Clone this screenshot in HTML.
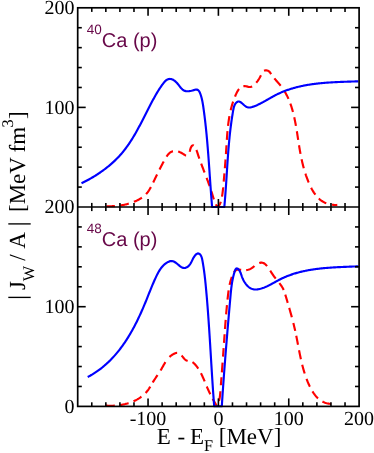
<!DOCTYPE html>
<html><head><meta charset="utf-8"><title>chart</title>
<style>html,body{margin:0;padding:0;background:#fff;overflow:hidden;}svg{display:block;will-change:transform;-webkit-font-smoothing:antialiased;}text{text-rendering:geometricPrecision;}</style>
</head><body>
<svg width="374" height="453" viewBox="0 0 374 453">
<rect width="374" height="453" fill="#fff"/>
<defs><clipPath id="ct"><rect x="77.70" y="7.80" width="281.40" height="200.30"/></clipPath><clipPath id="cb"><rect x="77.70" y="207.00" width="281.40" height="200.50"/></clipPath></defs>
<path d="M106.40 206.20 L107.16 206.22 L107.93 206.24 L108.69 206.25 L109.46 206.25 L110.22 206.25 L110.98 206.24 L111.74 206.22 L112.50 206.19 L113.27 206.16 L114.03 206.12 L114.78 206.08 L114.90 206.07 M120.07 205.53 L120.81 205.42 L121.56 205.30 L122.31 205.17 L123.05 205.03 L123.79 204.89 L124.53 204.73 L125.27 204.57 L126.01 204.40 L126.74 204.21 L127.47 204.02 L128.20 203.82 L128.79 203.65 M133.94 201.85 L134.64 201.56 L135.35 201.25 L136.04 200.94 L136.74 200.61 L137.43 200.27 L138.11 199.92 L138.79 199.56 L139.46 199.19 L140.13 198.80 L140.78 198.40 L141.42 197.98 L141.89 197.66 M146.08 194.11 L146.59 193.55 L147.07 192.97 L147.55 192.38 L148.00 191.77 L148.44 191.15 L148.87 190.52 L149.28 189.88 L149.68 189.22 L150.07 188.56 L150.45 187.89 L150.82 187.22 L150.90 187.08 M153.23 182.41 L153.57 181.72 L153.90 181.04 L154.22 180.35 L154.55 179.68 L154.88 179.00 L155.21 178.32 L155.53 177.65 L155.86 176.98 L156.18 176.30 L156.51 175.63 L156.84 174.96 L157.09 174.45 M159.48 169.61 L159.82 168.94 L160.16 168.27 L160.50 167.60 L160.85 166.92 L161.20 166.25 L161.55 165.57 L161.90 164.89 L162.26 164.21 L162.62 163.53 L162.99 162.84 L163.35 162.15 L163.71 161.50 M166.50 156.65 L166.93 156.01 L167.38 155.39 L167.84 154.79 L168.32 154.22 L168.82 153.69 L169.34 153.19 L169.87 152.74 L170.43 152.33 L171.01 151.97 L171.62 151.66 L172.25 151.41 L172.91 151.21 L172.94 151.21 M178.16 151.57 L178.94 151.82 L179.72 152.12 L180.50 152.45 L181.25 152.81 L181.99 153.20 L182.70 153.61 L183.39 154.05 L184.05 154.47 L184.68 154.86 L185.30 155.17 L185.91 155.36 L186.13 155.37 M189.65 151.81 L189.87 151.00 L190.07 150.18 L190.28 149.35 L190.52 148.53 L190.81 147.73 L191.16 146.98 L191.58 146.31 L192.05 145.78 L192.54 145.44 L193.05 145.34 L193.55 145.50 L193.74 145.65 M196.40 150.02 L196.69 150.75 L196.95 151.47 L197.21 152.20 L197.45 152.93 L197.69 153.65 L197.92 154.37 L198.16 155.10 L198.40 155.82 L198.64 156.54 L198.89 157.26 L199.14 157.98 L199.33 158.53 M201.20 163.70 L201.47 164.41 L201.73 165.12 L202.00 165.83 L202.27 166.54 L202.54 167.25 L202.81 167.96 L203.08 168.67 L203.35 169.37 L203.62 170.08 L203.90 170.79 L204.17 171.50 L204.44 172.21 L204.55 172.50 M206.61 177.88 L206.88 178.59 L207.15 179.30 L207.41 180.01 L207.68 180.72 L207.94 181.43 L208.20 182.14 L208.46 182.86 L208.72 183.57 L208.98 184.29 L209.23 185.00 L209.49 185.72 L209.60 186.05 M211.29 191.10 L211.42 191.48 L211.64 192.21 L211.87 192.94 L212.09 193.67 L212.31 194.40 L212.53 195.12 L212.76 195.85 L212.98 196.58 L213.21 197.31 L213.44 198.03 L213.68 198.75 L213.90 199.40 M215.90 204.33 L215.92 204.39 L216.26 205.07 L216.62 205.74 L217.00 206.40 L217.94 206.08 L218.69 205.63 L219.29 205.07 L219.75 204.43 L220.12 203.72 L220.42 202.97 L220.67 202.19 L220.80 201.76 M222.00 196.58 L222.14 195.76 L222.28 194.93 L222.40 194.11 L222.51 193.28 L222.62 192.44 L222.72 191.61 L222.82 190.77 L222.91 189.94 L222.99 189.10 L223.08 188.26 L223.16 187.42 L223.17 187.27 M223.70 181.56 L223.78 180.73 L223.85 179.90 L223.93 179.06 L224.00 178.23 L224.08 177.40 L224.15 176.56 L224.22 175.73 L224.30 174.90 L224.37 174.07 L224.43 173.30 M224.86 168.25 L224.93 167.42 L224.99 166.59 L225.06 165.76 L225.12 164.93 L225.19 164.10 L225.25 163.27 L225.32 162.44 L225.38 161.61 L225.44 160.78 L225.51 159.95 L225.54 159.46 M225.93 154.09 L225.98 153.30 L226.04 152.47 L226.09 151.64 L226.15 150.80 L226.20 149.97 L226.25 149.13 L226.31 148.30 L226.36 147.46 L226.41 146.63 L226.46 145.79 L226.49 145.29 M226.83 139.91 L226.89 139.10 L226.95 138.26 L227.01 137.42 L227.07 136.59 L227.13 135.75 L227.19 134.92 L227.26 134.08 L227.33 133.25 L227.39 132.41 L227.47 131.58 L227.51 131.12 M228.05 125.76 L228.15 124.94 L228.25 124.11 L228.35 123.28 L228.46 122.46 L228.57 121.64 L228.69 120.82 L228.81 120.00 L228.94 119.18 L229.07 118.36 L229.20 117.54 L229.34 116.73 L229.44 116.15 M230.67 110.23 L230.86 109.42 L231.06 108.62 L231.27 107.81 L231.49 107.00 L231.71 106.20 L231.94 105.39 L232.18 104.59 L232.43 103.78 L232.68 102.98 L232.94 102.18 L233.12 101.66 M235.03 96.56 L235.37 95.75 L235.71 94.95 L236.07 94.15 L236.44 93.35 L236.82 92.57 L237.22 91.81 L237.64 91.07 L238.08 90.36 L238.55 89.68 L239.04 89.05 L239.06 89.03 M243.36 86.24 L244.13 86.14 L244.95 86.13 L245.81 86.22 L246.72 86.41 L247.65 86.65 L248.57 86.86 L249.44 86.97 L250.27 86.97 L251.05 86.85 L251.79 86.61 L252.18 86.43 M256.23 82.77 L256.76 82.10 L257.27 81.44 L257.76 80.77 L258.22 80.10 L258.67 79.42 L259.10 78.73 L259.52 78.02 L259.93 77.29 L260.32 76.54 L260.71 75.77 L260.96 75.23 M264.05 70.85 L264.78 70.55 L265.56 70.39 L266.37 70.37 L267.17 70.48 L267.94 70.73 L268.65 71.10 L269.27 71.60 L269.82 72.20 L270.31 72.87 L270.79 73.58 L271.14 74.11 M274.36 78.37 L274.91 79.02 L275.46 79.66 L276.02 80.30 L276.58 80.94 L277.14 81.58 L277.70 82.21 L278.25 82.84 L278.81 83.48 L279.35 84.12 L279.89 84.76 L280.43 85.41 L280.69 85.74 M284.71 91.53 L285.13 92.24 L285.55 92.96 L285.95 93.68 L286.34 94.41 L286.72 95.15 L287.09 95.89 L287.46 96.63 L287.81 97.39 L288.16 98.14 L288.47 98.86 M290.33 103.55 L290.61 104.33 L290.89 105.12 L291.15 105.92 L291.41 106.71 L291.66 107.51 L291.91 108.31 L292.15 109.12 L292.38 109.92 L292.61 110.73 L292.83 111.54 L292.95 111.99 M294.22 117.25 L294.40 118.07 L294.58 118.89 L294.75 119.71 L294.92 120.53 L295.09 121.35 L295.25 122.17 L295.40 122.99 L295.56 123.81 L295.71 124.63 L295.86 125.46 L295.94 125.90 M296.84 131.22 L296.97 132.04 L297.10 132.87 L297.23 133.69 L297.36 134.51 L297.48 135.34 L297.61 136.16 L297.74 136.99 L297.86 137.81 L297.99 138.64 L298.12 139.46 L298.19 139.92 M299.02 145.23 L299.15 146.05 L299.28 146.88 L299.42 147.70 L299.55 148.52 L299.69 149.35 L299.84 150.17 L299.98 150.99 L300.13 151.81 L300.28 152.63 L300.43 153.46 L300.51 153.91 M301.58 159.19 L301.75 160.00 L301.94 160.82 L302.12 161.63 L302.31 162.45 L302.50 163.26 L302.70 164.07 L302.90 164.88 L303.11 165.69 L303.32 166.50 L303.53 167.31 L303.75 168.11 L303.79 168.25 M305.43 173.71 L305.70 174.51 L305.96 175.30 L306.24 176.09 L306.52 176.88 L306.80 177.67 L307.09 178.45 L307.39 179.24 L307.70 180.02 L308.01 180.80 L308.33 181.57 L308.65 182.35 L308.72 182.50 M311.13 187.71 L311.51 188.46 L311.91 189.20 L312.32 189.94 L312.74 190.67 L313.17 191.39 L313.61 192.10 L314.06 192.80 L314.53 193.48 L315.01 194.16 L315.43 194.73 M318.79 198.48 L319.39 199.03 L320.02 199.56 L320.66 200.07 L321.32 200.56 L322.00 201.03 L322.70 201.47 L323.43 201.89 L324.17 202.29 L324.93 202.66 L325.72 203.00 L326.30 203.23 M331.56 204.65 L332.41 204.78 L333.25 204.87 L334.09 204.94 L334.91 204.98 L335.73 204.98 L336.52 204.96 L337.30 204.90" fill="none" stroke="#ff0000" stroke-width="2.15" stroke-linejoin="round" clip-path="url(#ct)"/>
<path d="M81.50 183.30 L82.48 182.82 L83.47 182.33 L84.45 181.83 L85.43 181.32 L86.41 180.80 L87.38 180.28 L88.36 179.75 L89.33 179.21 L90.29 178.66 L91.26 178.11 L92.22 177.55 L93.18 176.98 L94.13 176.40 L95.08 175.81 L96.03 175.22 L96.97 174.62 L97.91 174.01 L98.84 173.39 L99.77 172.76 L100.69 172.13 L101.60 171.49 L102.52 170.84 L103.42 170.18 L104.32 169.51 L105.21 168.84 L106.10 168.16 L106.98 167.47 L107.85 166.77 L108.72 166.06 L109.58 165.35 L110.43 164.63 L111.28 163.90 L112.11 163.16 L112.94 162.41 L113.76 161.66 L114.57 160.90 L115.37 160.13 L116.17 159.35 L116.95 158.56 L117.73 157.77 L118.49 156.97 L119.25 156.16 L119.99 155.34 L120.73 154.51 L121.45 153.68 L122.17 152.84 L122.88 151.99 L123.57 151.13 L124.26 150.27 L124.93 149.40 L125.60 148.52 L126.26 147.63 L126.91 146.74 L127.55 145.84 L128.19 144.94 L128.82 144.03 L129.43 143.11 L130.05 142.19 L130.65 141.27 L131.25 140.34 L131.84 139.40 L132.43 138.46 L133.00 137.51 L133.58 136.56 L134.15 135.61 L134.71 134.65 L135.26 133.69 L135.82 132.72 L136.36 131.75 L136.91 130.78 L137.45 129.80 L137.98 128.83 L138.51 127.84 L139.04 126.86 L139.57 125.88 L140.09 124.89 L140.61 123.90 L141.12 122.91 L141.64 121.91 L142.15 120.92 L142.66 119.93 L143.17 118.93 L143.68 117.93 L144.18 116.94 L144.69 115.94 L145.20 114.94 L145.70 113.94 L146.21 112.95 L146.71 111.95 L147.22 110.95 L147.72 109.96 L148.23 108.97 L148.74 107.97 L149.25 106.98 L149.76 105.99 L150.27 105.00 L150.79 104.02 L151.31 103.03 L151.83 102.05 L152.35 101.07 L152.88 100.10 L153.41 99.13 L153.94 98.16 L154.47 97.19 L155.02 96.23 L155.56 95.27 L156.11 94.31 L156.67 93.36 L157.23 92.41 L157.80 91.47 L158.38 90.53 L158.97 89.60 L159.57 88.66 L160.19 87.74 L160.82 86.81 L161.46 85.89 L162.12 84.97 L162.80 84.06 L163.49 83.15 L164.21 82.25 L164.96 81.39 L165.76 80.61 L166.61 79.94 L167.53 79.43 L168.52 79.10 L169.53 78.94 L170.55 78.96 L171.55 79.16 L172.54 79.51 L173.50 80.02 L174.43 80.64 L175.33 81.37 L176.20 82.18 L177.03 83.06 L177.82 83.98 L178.58 84.93 L179.31 85.89 L180.04 86.83 L180.76 87.73 L181.51 88.57 L182.28 89.33 L183.10 89.99 L183.98 90.52 L184.92 90.90 L185.93 91.15 L186.98 91.27 L188.08 91.27 L189.21 91.18 L190.35 91.00 L191.51 90.75 L192.66 90.43 L193.79 90.10 L194.88 89.81 L195.90 89.63 L196.84 89.64 L197.67 89.90 L198.39 90.41 L199.02 91.13 L199.56 92.02 L200.03 93.02 L200.45 94.11 L200.82 95.22 L201.17 96.33 L201.48 97.44 L201.76 98.55 L202.02 99.66 L202.26 100.76 L202.47 101.87 L202.68 102.97 L202.86 104.07 L203.04 105.17 L203.21 106.27 L203.37 107.38 L203.52 108.48 L203.68 109.58 L203.83 110.68 L203.98 111.78 L204.12 112.88 L204.27 113.99 L204.41 115.09 L204.55 116.19 L204.69 117.30 L204.82 118.40 L204.96 119.50 L205.09 120.61 L205.21 121.71 L205.34 122.81 L205.47 123.92 L205.59 125.02 L205.71 126.13 L205.83 127.23 L205.94 128.34 L206.06 129.44 L206.17 130.55 L206.28 131.65 L206.39 132.76 L206.50 133.86 L206.61 134.97 L206.71 136.08 L206.81 137.18 L206.92 138.29 L207.02 139.40 L207.12 140.50 L207.21 141.61 L207.31 142.72 L207.40 143.82 L207.50 144.93 L207.59 146.04 L207.68 147.14 L207.77 148.25 L207.86 149.36 L207.95 150.47 L208.04 151.57 L208.12 152.68 L208.21 153.79 L208.29 154.90 L208.38 156.01 L208.46 157.11 L208.54 158.22 L208.62 159.33 L208.70 160.44 L208.79 161.55 L208.87 162.66 L208.94 163.76 L209.02 164.87 L209.10 165.98 L209.18 167.09 L209.26 168.20 L209.34 169.31 L209.41 170.42 L209.49 171.52 L209.57 172.63 L209.64 173.74 L209.72 174.85 L209.80 175.96 L209.87 177.07 L209.95 178.18 L210.03 179.29 L210.10 180.40 L210.18 181.50 L210.26 182.61 L210.34 183.72 L210.41 184.83 L210.49 185.94 L210.57 187.05 L210.65 188.16 L210.73 189.27 L210.81 190.37 L210.89 191.48 L210.97 192.59 L211.05 193.70 L211.13 194.81 L211.22 195.92 L211.30 197.03 L211.39 198.13 L211.47 199.24 L211.56 200.35 L211.65 201.46 L211.74 202.57 L211.82 203.68 L211.92 204.78 L212.01 205.89 L212.10 207.00 L224.30 207.00 L224.36 206.32 L224.43 205.65 L224.49 204.97 L224.55 204.29 L224.61 203.61 L224.67 202.93 L224.73 202.25 L224.79 201.57 L224.85 200.89 L224.90 200.21 L224.96 199.53 L225.02 198.85 L225.07 198.16 L225.13 197.48 L225.18 196.80 L225.23 196.12 L225.29 195.43 L225.34 194.75 L225.39 194.06 L225.44 193.38 L225.49 192.70 L225.54 192.01 L225.59 191.32 L225.64 190.64 L225.69 189.95 L225.74 189.27 L225.79 188.58 L225.84 187.89 L225.88 187.21 L225.93 186.52 L225.98 185.83 L226.02 185.14 L226.07 184.46 L226.12 183.77 L226.16 183.08 L226.21 182.39 L226.25 181.70 L226.30 181.02 L226.34 180.33 L226.39 179.64 L226.43 178.95 L226.48 178.26 L226.52 177.57 L226.57 176.88 L226.61 176.19 L226.65 175.51 L226.70 174.82 L226.74 174.13 L226.79 173.44 L226.83 172.75 L226.87 172.06 L226.92 171.37 L226.96 170.68 L227.01 169.99 L227.05 169.30 L227.10 168.61 L227.14 167.93 L227.19 167.24 L227.23 166.55 L227.28 165.86 L227.32 165.17 L227.37 164.48 L227.41 163.79 L227.46 163.11 L227.50 162.42 L227.55 161.73 L227.60 161.04 L227.64 160.36 L227.69 159.67 L227.74 158.98 L227.79 158.30 L227.84 157.61 L227.89 156.92 L227.93 156.24 L227.98 155.55 L228.03 154.87 L228.09 154.18 L228.14 153.49 L228.19 152.81 L228.24 152.13 L228.29 151.44 L228.35 150.76 L228.40 150.07 L228.45 149.39 L228.51 148.71 L228.57 148.03 L228.62 147.34 L228.68 146.66 L228.74 145.98 L228.79 145.30 L228.85 144.62 L228.91 143.94 L228.97 143.26 L229.03 142.58 L229.10 141.90 L229.16 141.23 L229.22 140.55 L229.29 139.87 L229.35 139.20 L229.42 138.52 L229.49 137.84 L229.55 137.17 L229.62 136.49 L229.69 135.82 L229.76 135.15 L229.83 134.48 L229.91 133.80 L229.98 133.13 L230.05 132.46 L230.13 131.79 L230.21 131.12 L230.28 130.45 L230.36 129.78 L230.44 129.11 L230.52 128.44 L230.61 127.77 L230.69 127.10 L230.78 126.43 L230.86 125.76 L230.95 125.09 L231.04 124.42 L231.13 123.74 L231.22 123.06 L231.32 122.38 L231.41 121.70 L231.51 121.02 L231.61 120.34 L231.71 119.65 L231.81 118.96 L231.91 118.27 L232.02 117.57 L232.13 116.87 L232.23 116.17 L232.35 115.47 L232.46 114.76 L232.57 114.05 L232.69 113.33 L232.81 112.61 L232.93 111.88 L233.05 111.15 L233.18 110.42 L233.32 109.69 L233.46 108.96 L233.62 108.23 L233.79 107.52 L233.99 106.82 L234.22 106.14 L234.47 105.48 L234.76 104.85 L235.08 104.24 L235.44 103.68 L235.83 103.15 L236.24 102.69 L236.68 102.28 L237.14 101.95 L237.62 101.70 L238.11 101.54 L238.61 101.48 L239.12 101.53 L239.63 101.68 L240.15 101.92 L240.68 102.24 L241.21 102.61 L241.75 103.04 L242.29 103.51 L242.85 104.00 L243.41 104.51 L243.97 105.01 L244.55 105.50 L245.13 105.96 L245.71 106.38 L246.31 106.75 L246.91 107.06 L247.52 107.28 L248.14 107.43 L248.77 107.50 L249.40 107.51 L250.03 107.46 L250.67 107.36 L251.31 107.22 L251.94 107.05 L252.58 106.85 L253.22 106.63 L253.85 106.41 L254.48 106.17 L255.11 105.93 L255.74 105.68 L256.36 105.41 L256.99 105.14 L257.61 104.87 L258.22 104.58 L258.84 104.29 L259.45 103.99 L260.07 103.68 L260.68 103.37 L261.29 103.06 L261.90 102.74 L262.51 102.41 L263.12 102.08 L263.72 101.75 L264.33 101.41 L264.93 101.07 L265.54 100.73 L266.14 100.39 L266.75 100.04 L267.35 99.70 L267.96 99.35 L268.56 99.01 L269.16 98.66 L269.77 98.31 L270.38 97.97 L270.98 97.62 L271.59 97.28 L272.20 96.94 L272.80 96.61 L273.41 96.27 L274.02 95.94 L274.64 95.61 L275.25 95.29 L275.87 94.97 L276.48 94.66 L277.10 94.35 L277.72 94.05 L278.34 93.76 L278.97 93.46 L279.59 93.18 L280.22 92.89 L280.85 92.62 L281.48 92.34 L282.11 92.08 L282.74 91.82 L283.37 91.56 L284.01 91.30 L284.65 91.06 L285.28 90.81 L285.92 90.57 L286.57 90.34 L287.21 90.11 L287.85 89.88 L288.50 89.66 L289.14 89.44 L289.79 89.23 L290.44 89.02 L291.09 88.82 L291.74 88.61 L292.40 88.42 L293.05 88.23 L293.70 88.04 L294.36 87.85 L295.02 87.67 L295.68 87.50 L296.34 87.32 L297.00 87.15 L297.66 86.99 L298.32 86.83 L298.98 86.67 L299.65 86.51 L300.32 86.36 L300.98 86.21 L301.65 86.07 L302.32 85.93 L302.99 85.79 L303.66 85.65 L304.33 85.52 L305.00 85.40 L305.67 85.27 L306.35 85.15 L307.02 85.03 L307.70 84.91 L308.37 84.80 L309.05 84.69 L309.73 84.58 L310.40 84.48 L311.08 84.38 L311.76 84.28 L312.44 84.18 L313.12 84.09 L313.80 84.00 L314.49 83.91 L315.17 83.82 L315.85 83.74 L316.53 83.66 L317.22 83.58 L317.90 83.50 L318.59 83.43 L319.27 83.35 L319.96 83.28 L320.64 83.22 L321.33 83.15 L322.02 83.09 L322.70 83.02 L323.39 82.96 L324.08 82.90 L324.77 82.85 L325.45 82.79 L326.14 82.74 L326.83 82.69 L327.52 82.64 L328.21 82.59 L328.90 82.54 L329.59 82.50 L330.28 82.45 L330.97 82.41 L331.65 82.37 L332.34 82.33 L333.03 82.29 L333.72 82.25 L334.41 82.22 L335.10 82.18 L335.79 82.15 L336.48 82.12 L337.17 82.08 L337.86 82.05 L338.55 82.02 L339.24 81.99 L339.93 81.96 L340.62 81.93 L341.31 81.91 L341.99 81.88 L342.68 81.85 L343.37 81.83 L344.06 81.80 L344.74 81.78 L345.43 81.75 L346.12 81.73 L346.80 81.71 L347.49 81.68 L348.18 81.66 L348.86 81.64 L349.55 81.61 L350.23 81.59 L350.91 81.57 L351.60 81.54 L352.28 81.52 L352.96 81.50 L353.64 81.47 L354.33 81.45 L355.01 81.43 L355.69 81.40 L356.37 81.38 L357.04 81.35 L357.72 81.33 L358.40 81.30" fill="none" stroke="#0000ff" stroke-width="2.15" stroke-linejoin="round" clip-path="url(#ct)"/>
<path d="M105.90 405.60 L106.51 405.64 L107.11 405.67 L107.72 405.70 L108.34 405.72 L108.95 405.74 L109.57 405.75 L110.19 405.75 L110.81 405.75 L111.43 405.75 L112.05 405.74 L112.68 405.72 L113.30 405.70 L113.93 405.67 L114.55 405.63 L114.80 405.62 M120.21 405.04 L120.83 404.94 L121.46 404.83 L122.08 404.72 L122.70 404.60 L123.32 404.48 L123.94 404.35 L124.56 404.21 L125.18 404.07 L125.79 403.91 L126.40 403.75 L127.01 403.59 L127.62 403.41 L128.22 403.23 L128.59 403.12 M133.51 401.28 L134.08 401.02 L134.65 400.76 L135.21 400.49 L135.76 400.21 L136.31 399.93 L136.86 399.63 L137.40 399.33 L137.93 399.02 L138.46 398.70 L138.98 398.37 L139.50 398.04 L140.01 397.69 L140.52 397.34 L141.02 396.98 L141.45 396.66 M145.63 392.91 L146.05 392.45 L146.46 391.99 L146.87 391.51 L147.26 391.03 L147.65 390.54 L148.03 390.04 L148.40 389.52 L148.76 389.00 L149.11 388.48 L149.45 387.94 L149.79 387.40 L150.13 386.85 L150.28 386.59 M152.72 382.45 L153.05 381.91 L153.38 381.37 L153.71 380.84 L154.05 380.32 L154.39 379.79 L154.73 379.28 L155.08 378.76 L155.42 378.25 L155.77 377.74 L156.12 377.23 L156.46 376.72 L156.81 376.22 L157.16 375.71 L157.51 375.20 L157.59 375.08 M160.53 370.55 L160.85 370.02 L161.16 369.48 L161.48 368.93 L161.79 368.39 L162.10 367.84 L162.41 367.29 L162.72 366.74 L163.03 366.19 L163.34 365.64 L163.65 365.09 L163.97 364.55 L164.29 364.00 L164.61 363.46 L164.94 362.92 L165.27 362.39 L165.43 362.16 M169.50 357.02 L169.95 356.59 L170.42 356.18 L170.90 355.78 L171.39 355.39 L171.91 355.02 L172.44 354.67 L172.98 354.33 L173.55 354.01 L174.13 353.71 L174.72 353.45 L175.31 353.22 L175.91 353.05 L176.50 352.93 L177.08 352.88 L177.14 352.88 M181.63 355.56 L182.08 356.08 L182.53 356.62 L182.97 357.16 L183.41 357.70 L183.86 358.22 L184.31 358.72 L184.76 359.18 L185.22 359.61 L185.69 359.99 L186.17 360.32 L186.67 360.61 L187.20 360.84 L187.63 360.99 M192.47 362.14 L192.96 362.47 L193.43 362.84 L193.88 363.23 L194.31 363.65 L194.73 364.09 L195.15 364.54 L195.55 364.99 L195.94 365.45 L196.33 365.92 L196.70 366.40 L197.07 366.89 L197.43 367.38 L197.78 367.88 L198.12 368.39 L198.26 368.59 M200.93 373.20 L201.22 373.76 L201.50 374.33 L201.78 374.89 L202.05 375.46 L202.31 376.03 L202.58 376.61 L202.84 377.18 L203.10 377.76 L203.36 378.35 L203.61 378.93 L203.86 379.51 L204.11 380.10 L204.36 380.68 L204.60 381.27 L204.67 381.44 M206.80 386.54 L207.05 387.12 L207.30 387.70 L207.54 388.27 L207.80 388.84 L208.05 389.41 L208.30 389.98 L208.56 390.55 L208.82 391.12 L209.08 391.68 L209.34 392.24 L209.61 392.80 L209.87 393.36 L210.14 393.91 L210.31 394.25 M212.68 398.85 L212.98 399.39 L213.28 399.93 L213.58 400.47 L213.88 401.01 L214.19 401.55 L214.51 402.08 L214.82 402.62 L215.14 403.15 L215.47 403.68 L215.79 404.21 L216.12 404.74 L216.46 405.27 L216.80 405.80 L216.95 405.56 M219.00 400.90 L219.23 400.02 L219.44 399.14 L219.61 398.25 L219.77 397.34 L219.90 396.43 L220.01 395.51 L220.11 394.59 L220.20 393.66 L220.28 392.73 L220.36 391.80 L220.40 391.29 M220.86 385.28 L220.93 384.35 L221.01 383.43 L221.08 382.50 L221.15 381.57 L221.22 380.64 L221.29 379.72 L221.36 378.79 L221.43 377.87 L221.48 377.24 M221.85 372.32 L221.92 371.40 L221.99 370.47 L222.06 369.55 L222.13 368.63 L222.20 367.71 L222.27 366.78 L222.34 365.86 L222.40 364.94 L222.47 364.02 L222.54 363.10 L222.58 362.63 M223.01 356.65 L223.08 355.73 L223.15 354.81 L223.21 353.89 L223.28 352.97 L223.35 352.05 L223.41 351.13 L223.48 350.21 L223.54 349.29 L223.61 348.37 L223.63 348.09 M224.00 342.85 L224.06 341.93 L224.13 341.01 L224.19 340.09 L224.25 339.17 L224.32 338.25 L224.38 337.33 L224.45 336.41 L224.51 335.49 L224.58 334.56 L224.60 334.28 M224.98 329.04 L225.05 328.12 L225.11 327.20 L225.18 326.27 L225.25 325.35 L225.32 324.43 L225.39 323.51 L225.46 322.59 L225.54 321.67 L225.61 320.74 L225.68 319.88 M226.14 314.29 L226.22 313.37 L226.29 312.45 L226.38 311.53 L226.46 310.60 L226.54 309.68 L226.63 308.76 L226.71 307.84 L226.80 306.92 L226.88 305.99 L226.97 305.13 M227.53 299.54 L227.63 298.62 L227.73 297.70 L227.83 296.77 L227.93 295.85 L228.04 294.93 L228.15 294.01 L228.26 293.09 L228.38 292.17 L228.51 291.25 L228.63 290.40 M229.60 284.86 L229.80 283.96 L230.01 283.05 L230.23 282.15 L230.47 281.26 L230.73 280.36 L230.99 279.47 L231.28 278.59 L231.58 277.71 L231.86 276.92 M233.98 272.35 L234.31 271.85 L234.85 271.19 L235.44 270.62 L236.09 270.16 L236.82 269.82 L237.62 269.62 L238.50 269.57 L239.43 269.62 L240.41 269.73 L241.17 269.83 M246.20 270.06 L247.11 269.96 L248.00 269.79 L248.86 269.56 L249.71 269.26 L250.52 268.89 L251.31 268.43 L252.08 267.91 L252.83 267.34 L253.59 266.74 L254.36 266.13 L254.41 266.08 M259.24 263.09 L260.06 262.83 L260.87 262.66 L261.66 262.61 L262.44 262.70 L263.19 262.92 L263.93 263.27 L264.64 263.73 L265.33 264.29 L266.01 264.93 L266.66 265.65 L267.04 266.12 M270.22 270.69 L270.75 271.53 L271.28 272.34 L271.79 273.12 L272.30 273.88 L272.80 274.63 L273.31 275.36 L273.81 276.07 L274.32 276.78 L274.83 277.48 L275.36 278.18 L275.68 278.59 M279.36 283.17 L279.94 283.92 L280.50 284.67 L281.05 285.43 L281.58 286.20 L282.09 286.99 L282.57 287.78 L283.02 288.59 L283.43 289.42 L283.67 289.97 M285.28 294.62 L285.55 295.50 L285.81 296.39 L286.08 297.27 L286.34 298.16 L286.60 299.04 L286.87 299.93 L287.13 300.81 L287.40 301.70 L287.66 302.58 L287.74 302.86 M289.22 307.90 L289.47 308.79 L289.73 309.68 L289.98 310.56 L290.23 311.45 L290.48 312.34 L290.73 313.23 L290.98 314.12 L291.23 315.01 L291.47 315.90 L291.71 316.80 L291.84 317.26 M293.35 323.06 L293.57 323.95 L293.80 324.85 L294.01 325.75 L294.23 326.65 L294.44 327.55 L294.65 328.45 L294.86 329.35 L295.06 330.25 L295.20 330.87 M296.22 335.68 L296.41 336.58 L296.59 337.49 L296.77 338.40 L296.95 339.31 L297.12 340.22 L297.30 341.12 L297.48 342.03 L297.65 342.94 L297.83 343.85 L297.99 344.70 M299.05 350.21 L299.23 351.12 L299.41 352.03 L299.59 352.94 L299.77 353.84 L299.95 354.75 L300.14 355.65 L300.33 356.56 L300.52 357.46 L300.72 358.37 L300.90 359.20 M302.19 364.66 L302.41 365.56 L302.64 366.45 L302.88 367.34 L303.12 368.23 L303.37 369.12 L303.62 370.01 L303.88 370.90 L304.14 371.78 L304.42 372.66 L304.68 373.49 M306.51 378.79 L306.84 379.66 L307.18 380.52 L307.52 381.39 L307.88 382.25 L308.24 383.10 L308.62 383.96 L309.00 384.81 L309.39 385.66 L309.79 386.51 L309.92 386.77 M312.46 391.43 L312.95 392.21 L313.46 392.98 L313.98 393.73 L314.52 394.47 L315.07 395.19 L315.64 395.89 L316.23 396.57 L316.84 397.22 L317.47 397.86 L318.03 398.38 M322.47 401.54 L323.27 401.95 L324.10 402.32 L324.96 402.65 L325.84 402.95 L326.74 403.21 L327.68 403.43 L328.64 403.61 L329.63 403.75 L330.65 403.85 L331.08 403.87" fill="none" stroke="#ff0000" stroke-width="2.15" stroke-linejoin="round" clip-path="url(#cb)"/>
<path d="M87.70 377.00 L88.90 376.36 L90.09 375.71 L91.27 375.03 L92.43 374.35 L93.57 373.64 L94.70 372.92 L95.82 372.19 L96.92 371.44 L98.02 370.67 L99.09 369.89 L100.16 369.10 L101.21 368.29 L102.24 367.47 L103.27 366.64 L104.28 365.79 L105.28 364.93 L106.26 364.05 L107.24 363.17 L108.20 362.27 L109.15 361.36 L110.09 360.43 L111.01 359.50 L111.93 358.55 L112.83 357.59 L113.72 356.62 L114.60 355.64 L115.47 354.65 L116.32 353.65 L117.17 352.64 L118.00 351.62 L118.83 350.59 L119.64 349.55 L120.45 348.50 L121.24 347.44 L122.03 346.38 L122.80 345.30 L123.56 344.22 L124.32 343.13 L125.06 342.03 L125.80 340.92 L126.52 339.81 L127.24 338.69 L127.95 337.56 L128.65 336.43 L129.34 335.29 L130.02 334.14 L130.69 332.99 L131.36 331.83 L132.01 330.67 L132.66 329.50 L133.30 328.33 L133.94 327.15 L134.56 325.97 L135.18 324.78 L135.79 323.59 L136.39 322.40 L136.99 321.20 L137.58 320.00 L138.16 318.79 L138.74 317.59 L139.31 316.38 L139.87 315.17 L140.43 313.95 L140.98 312.74 L141.52 311.52 L142.06 310.30 L142.59 309.08 L143.12 307.86 L143.64 306.64 L144.16 305.42 L144.67 304.20 L145.18 302.98 L145.68 301.76 L146.17 300.54 L146.67 299.32 L147.16 298.10 L147.64 296.88 L148.13 295.66 L148.62 294.44 L149.10 293.22 L149.59 292.00 L150.08 290.78 L150.57 289.56 L151.07 288.34 L151.57 287.12 L152.08 285.90 L152.59 284.68 L153.11 283.46 L153.64 282.24 L154.17 281.02 L154.72 279.79 L155.27 278.57 L155.84 277.34 L156.42 276.12 L157.02 274.90 L157.63 273.69 L158.27 272.49 L158.94 271.32 L159.65 270.17 L160.38 269.05 L161.17 267.97 L161.99 266.93 L162.87 265.94 L163.80 265.01 L164.79 264.13 L165.83 263.31 L166.95 262.57 L168.13 261.91 L169.35 261.39 L170.60 261.08 L171.83 261.02 L173.05 261.27 L174.24 261.77 L175.40 262.46 L176.54 263.29 L177.66 264.21 L178.77 265.15 L179.88 266.05 L180.98 266.85 L182.10 267.49 L183.23 267.91 L184.39 268.05 L185.58 267.86 L186.77 267.35 L187.91 266.60 L188.95 265.67 L189.83 264.63 L190.58 263.52 L191.24 262.34 L191.84 261.12 L192.43 259.86 L193.07 258.58 L193.77 257.30 L194.57 256.07 L195.44 254.98 L196.35 254.12 L197.30 253.57 L198.26 253.42 L199.21 253.74 L200.07 254.43 L200.79 255.38 L201.35 256.50 L201.79 257.76 L202.13 259.11 L202.41 260.51 L202.66 261.91 L202.90 263.30 L203.13 264.69 L203.36 266.06 L203.57 267.43 L203.77 268.79 L203.96 270.14 L204.15 271.48 L204.32 272.82 L204.49 274.15 L204.65 275.48 L204.81 276.80 L204.96 278.12 L205.11 279.43 L205.25 280.75 L205.38 282.06 L205.52 283.37 L205.65 284.67 L205.77 285.98 L205.90 287.29 L206.02 288.60 L206.14 289.90 L206.26 291.21 L206.38 292.53 L206.50 293.84 L206.61 295.15 L206.73 296.46 L206.84 297.78 L206.95 299.09 L207.06 300.41 L207.17 301.72 L207.27 303.04 L207.38 304.36 L207.48 305.67 L207.59 306.99 L207.69 308.31 L207.79 309.63 L207.89 310.95 L207.99 312.27 L208.09 313.59 L208.18 314.91 L208.28 316.24 L208.37 317.56 L208.47 318.88 L208.56 320.21 L208.65 321.53 L208.74 322.85 L208.83 324.18 L208.92 325.50 L209.01 326.83 L209.10 328.16 L209.19 329.48 L209.28 330.81 L209.36 332.14 L209.45 333.46 L209.53 334.79 L209.62 336.12 L209.70 337.45 L209.79 338.77 L209.87 340.10 L209.95 341.43 L210.04 342.76 L210.12 344.09 L210.20 345.42 L210.28 346.75 L210.36 348.08 L210.44 349.40 L210.53 350.73 L210.61 352.06 L210.69 353.39 L210.77 354.72 L210.85 356.05 L210.93 357.38 L211.01 358.71 L211.09 360.04 L211.17 361.37 L211.25 362.70 L211.33 364.03 L211.42 365.36 L211.50 366.68 L211.58 368.01 L211.66 369.34 L211.74 370.67 L211.83 372.00 L211.91 373.33 L211.99 374.65 L212.08 375.98 L212.16 377.31 L212.25 378.63 L212.33 379.96 L212.42 381.29 L212.50 382.61 L212.59 383.94 L212.68 385.26 L212.77 386.59 L212.86 387.91 L212.95 389.24 L213.04 390.56 L213.13 391.88 L213.22 393.20 L213.32 394.53 L213.41 395.85 L213.51 397.17 L213.60 398.49 L213.70 399.81 L213.80 401.13 L213.90 402.45 L214.00 403.77 L214.10 405.08 L214.20 406.40 L221.80 406.40 L221.85 405.58 L221.90 404.75 L221.96 403.93 L222.01 403.10 L222.06 402.28 L222.12 401.45 L222.17 400.63 L222.22 399.80 L222.28 398.98 L222.33 398.15 L222.39 397.33 L222.44 396.50 L222.50 395.68 L222.55 394.85 L222.61 394.03 L222.67 393.20 L222.72 392.37 L222.78 391.55 L222.84 390.72 L222.89 389.90 L222.95 389.07 L223.01 388.25 L223.07 387.42 L223.12 386.59 L223.18 385.77 L223.24 384.94 L223.30 384.12 L223.36 383.29 L223.42 382.46 L223.48 381.64 L223.54 380.81 L223.60 379.99 L223.66 379.16 L223.72 378.33 L223.78 377.51 L223.84 376.68 L223.90 375.85 L223.96 375.03 L224.02 374.20 L224.08 373.38 L224.14 372.55 L224.20 371.72 L224.27 370.90 L224.33 370.07 L224.39 369.24 L224.45 368.42 L224.52 367.59 L224.58 366.76 L224.64 365.94 L224.71 365.11 L224.77 364.28 L224.83 363.46 L224.90 362.63 L224.96 361.80 L225.03 360.98 L225.09 360.15 L225.15 359.33 L225.22 358.50 L225.28 357.67 L225.35 356.85 L225.41 356.02 L225.48 355.19 L225.55 354.37 L225.61 353.54 L225.68 352.71 L225.74 351.89 L225.81 351.06 L225.88 350.24 L225.94 349.41 L226.01 348.58 L226.08 347.76 L226.14 346.93 L226.21 346.11 L226.28 345.28 L226.35 344.45 L226.41 343.63 L226.48 342.80 L226.55 341.98 L226.62 341.15 L226.68 340.33 L226.75 339.50 L226.82 338.67 L226.89 337.85 L226.96 337.02 L227.03 336.20 L227.10 335.37 L227.17 334.55 L227.23 333.72 L227.30 332.90 L227.37 332.07 L227.44 331.25 L227.51 330.42 L227.58 329.60 L227.65 328.77 L227.72 327.95 L227.79 327.13 L227.86 326.30 L227.93 325.48 L228.00 324.65 L228.07 323.83 L228.14 323.00 L228.21 322.18 L228.28 321.36 L228.35 320.53 L228.43 319.71 L228.50 318.89 L228.57 318.06 L228.64 317.24 L228.71 316.42 L228.78 315.59 L228.85 314.77 L228.92 313.95 L229.00 313.13 L229.07 312.30 L229.14 311.48 L229.21 310.66 L229.28 309.84 L229.35 309.01 L229.43 308.19 L229.50 307.37 L229.57 306.55 L229.64 305.73 L229.71 304.90 L229.79 304.08 L229.86 303.26 L229.93 302.44 L230.00 301.62 L230.08 300.80 L230.15 299.98 L230.22 299.16 L230.29 298.34 L230.37 297.52 L230.44 296.70 L230.51 295.88 L230.58 295.06 L230.66 294.24 L230.74 293.42 L230.81 292.60 L230.90 291.78 L230.98 290.96 L231.07 290.13 L231.16 289.31 L231.25 288.49 L231.35 287.66 L231.45 286.84 L231.56 286.01 L231.68 285.19 L231.80 284.36 L231.92 283.53 L232.05 282.70 L232.19 281.87 L232.34 281.03 L232.50 280.20 L232.66 279.36 L232.83 278.53 L233.02 277.69 L233.21 276.84 L233.41 276.00 L233.62 275.15 L233.84 274.31 L234.07 273.45 L234.32 272.60 L234.57 271.75 L234.85 270.92 L235.14 270.15 L235.47 269.48 L235.83 268.94 L236.23 268.56 L236.68 268.39 L237.19 268.45 L237.72 268.71 L238.26 269.13 L238.79 269.68 L239.28 270.31 L239.71 270.99 L240.09 271.72 L240.43 272.47 L240.74 273.26 L241.04 274.07 L241.32 274.90 L241.61 275.73 L241.90 276.57 L242.22 277.41 L242.56 278.24 L242.93 279.06 L243.31 279.88 L243.72 280.67 L244.16 281.45 L244.61 282.21 L245.09 282.95 L245.59 283.66 L246.12 284.35 L246.66 285.00 L247.22 285.62 L247.81 286.21 L248.41 286.75 L249.04 287.26 L249.69 287.72 L250.35 288.13 L251.04 288.50 L251.74 288.81 L252.47 289.06 L253.21 289.26 L253.97 289.40 L254.74 289.48 L255.53 289.51 L256.34 289.49 L257.15 289.42 L257.96 289.31 L258.78 289.16 L259.60 288.98 L260.42 288.77 L261.23 288.54 L262.03 288.29 L262.83 288.02 L263.62 287.74 L264.40 287.44 L265.17 287.12 L265.94 286.80 L266.70 286.46 L267.46 286.11 L268.21 285.74 L268.96 285.37 L269.70 285.00 L270.44 284.61 L271.18 284.22 L271.92 283.82 L272.65 283.42 L273.38 283.02 L274.11 282.61 L274.84 282.21 L275.57 281.80 L276.30 281.40 L277.03 281.00 L277.75 280.60 L278.49 280.21 L279.22 279.82 L279.96 279.44 L280.69 279.07 L281.43 278.70 L282.18 278.34 L282.93 277.99 L283.67 277.65 L284.43 277.32 L285.18 276.99 L285.94 276.67 L286.70 276.36 L287.46 276.05 L288.23 275.75 L288.99 275.46 L289.76 275.17 L290.53 274.90 L291.31 274.63 L292.09 274.36 L292.86 274.10 L293.64 273.85 L294.43 273.60 L295.21 273.36 L296.00 273.13 L296.79 272.90 L297.58 272.68 L298.37 272.47 L299.17 272.26 L299.96 272.05 L300.76 271.85 L301.56 271.66 L302.36 271.47 L303.17 271.29 L303.97 271.11 L304.78 270.94 L305.58 270.77 L306.39 270.61 L307.20 270.46 L308.02 270.30 L308.83 270.15 L309.64 270.01 L310.46 269.87 L311.28 269.74 L312.10 269.61 L312.91 269.48 L313.73 269.36 L314.56 269.24 L315.38 269.13 L316.20 269.02 L317.03 268.91 L317.85 268.81 L318.68 268.71 L319.50 268.61 L320.33 268.52 L321.16 268.43 L321.99 268.34 L322.82 268.26 L323.65 268.18 L324.48 268.10 L325.31 268.03 L326.14 267.96 L326.97 267.89 L327.80 267.82 L328.63 267.76 L329.46 267.70 L330.30 267.64 L331.13 267.58 L331.96 267.53 L332.79 267.47 L333.63 267.42 L334.46 267.37 L335.29 267.32 L336.12 267.28 L336.96 267.23 L337.79 267.19 L338.62 267.15 L339.45 267.11 L340.28 267.07 L341.12 267.03 L341.95 266.99 L342.78 266.96 L343.60 266.92 L344.43 266.89 L345.26 266.85 L346.09 266.82 L346.92 266.78 L347.74 266.75 L348.57 266.72 L349.39 266.69 L350.22 266.65 L351.04 266.62 L351.86 266.59 L352.68 266.55 L353.50 266.52 L354.32 266.49 L355.14 266.45 L355.96 266.42 L356.77 266.38 L357.59 266.35 L358.40 266.31" fill="none" stroke="#0000ff" stroke-width="2.15" stroke-linejoin="round" clip-path="url(#cb)"/>
<g stroke="#000" stroke-width="1.70" fill="none">
<rect x="77.70" y="7.80" width="281.40" height="398.60"/>
<line x1="77.70" y1="207.00" x2="359.10" y2="207.00"/>
</g>
<g stroke="#000" stroke-width="1.60" fill="none">
<line x1="91.77" y1="7.80" x2="91.77" y2="11.90"/>
<line x1="91.77" y1="202.90" x2="91.77" y2="211.10"/>
<line x1="91.77" y1="402.30" x2="91.77" y2="406.40"/>
<line x1="105.84" y1="7.80" x2="105.84" y2="11.90"/>
<line x1="105.84" y1="202.90" x2="105.84" y2="211.10"/>
<line x1="105.84" y1="402.30" x2="105.84" y2="406.40"/>
<line x1="119.91" y1="7.80" x2="119.91" y2="11.90"/>
<line x1="119.91" y1="202.90" x2="119.91" y2="211.10"/>
<line x1="119.91" y1="402.30" x2="119.91" y2="406.40"/>
<line x1="133.98" y1="7.80" x2="133.98" y2="11.90"/>
<line x1="133.98" y1="202.90" x2="133.98" y2="211.10"/>
<line x1="133.98" y1="402.30" x2="133.98" y2="406.40"/>
<line x1="148.05" y1="7.80" x2="148.05" y2="15.80"/>
<line x1="148.05" y1="199.00" x2="148.05" y2="215.00"/>
<line x1="148.05" y1="398.40" x2="148.05" y2="406.40"/>
<line x1="162.12" y1="7.80" x2="162.12" y2="11.90"/>
<line x1="162.12" y1="202.90" x2="162.12" y2="211.10"/>
<line x1="162.12" y1="402.30" x2="162.12" y2="406.40"/>
<line x1="176.19" y1="7.80" x2="176.19" y2="11.90"/>
<line x1="176.19" y1="202.90" x2="176.19" y2="211.10"/>
<line x1="176.19" y1="402.30" x2="176.19" y2="406.40"/>
<line x1="190.26" y1="7.80" x2="190.26" y2="11.90"/>
<line x1="190.26" y1="202.90" x2="190.26" y2="211.10"/>
<line x1="190.26" y1="402.30" x2="190.26" y2="406.40"/>
<line x1="204.33" y1="7.80" x2="204.33" y2="11.90"/>
<line x1="204.33" y1="202.90" x2="204.33" y2="211.10"/>
<line x1="204.33" y1="402.30" x2="204.33" y2="406.40"/>
<line x1="218.40" y1="7.80" x2="218.40" y2="15.80"/>
<line x1="218.40" y1="199.00" x2="218.40" y2="215.00"/>
<line x1="218.40" y1="398.40" x2="218.40" y2="406.40"/>
<line x1="232.47" y1="7.80" x2="232.47" y2="11.90"/>
<line x1="232.47" y1="202.90" x2="232.47" y2="211.10"/>
<line x1="232.47" y1="402.30" x2="232.47" y2="406.40"/>
<line x1="246.54" y1="7.80" x2="246.54" y2="11.90"/>
<line x1="246.54" y1="202.90" x2="246.54" y2="211.10"/>
<line x1="246.54" y1="402.30" x2="246.54" y2="406.40"/>
<line x1="260.61" y1="7.80" x2="260.61" y2="11.90"/>
<line x1="260.61" y1="202.90" x2="260.61" y2="211.10"/>
<line x1="260.61" y1="402.30" x2="260.61" y2="406.40"/>
<line x1="274.68" y1="7.80" x2="274.68" y2="11.90"/>
<line x1="274.68" y1="202.90" x2="274.68" y2="211.10"/>
<line x1="274.68" y1="402.30" x2="274.68" y2="406.40"/>
<line x1="288.75" y1="7.80" x2="288.75" y2="15.80"/>
<line x1="288.75" y1="199.00" x2="288.75" y2="215.00"/>
<line x1="288.75" y1="398.40" x2="288.75" y2="406.40"/>
<line x1="302.82" y1="7.80" x2="302.82" y2="11.90"/>
<line x1="302.82" y1="202.90" x2="302.82" y2="211.10"/>
<line x1="302.82" y1="402.30" x2="302.82" y2="406.40"/>
<line x1="316.89" y1="7.80" x2="316.89" y2="11.90"/>
<line x1="316.89" y1="202.90" x2="316.89" y2="211.10"/>
<line x1="316.89" y1="402.30" x2="316.89" y2="406.40"/>
<line x1="330.96" y1="7.80" x2="330.96" y2="11.90"/>
<line x1="330.96" y1="202.90" x2="330.96" y2="211.10"/>
<line x1="330.96" y1="402.30" x2="330.96" y2="406.40"/>
<line x1="345.03" y1="7.80" x2="345.03" y2="11.90"/>
<line x1="345.03" y1="202.90" x2="345.03" y2="211.10"/>
<line x1="345.03" y1="402.30" x2="345.03" y2="406.40"/>
<line x1="77.70" y1="27.72" x2="81.80" y2="27.72"/>
<line x1="355.00" y1="27.72" x2="359.10" y2="27.72"/>
<line x1="77.70" y1="47.64" x2="81.80" y2="47.64"/>
<line x1="355.00" y1="47.64" x2="359.10" y2="47.64"/>
<line x1="77.70" y1="67.56" x2="81.80" y2="67.56"/>
<line x1="355.00" y1="67.56" x2="359.10" y2="67.56"/>
<line x1="77.70" y1="87.48" x2="81.80" y2="87.48"/>
<line x1="355.00" y1="87.48" x2="359.10" y2="87.48"/>
<line x1="77.70" y1="107.40" x2="85.70" y2="107.40"/>
<line x1="351.10" y1="107.40" x2="359.10" y2="107.40"/>
<line x1="77.70" y1="127.32" x2="81.80" y2="127.32"/>
<line x1="355.00" y1="127.32" x2="359.10" y2="127.32"/>
<line x1="77.70" y1="147.24" x2="81.80" y2="147.24"/>
<line x1="355.00" y1="147.24" x2="359.10" y2="147.24"/>
<line x1="77.70" y1="167.16" x2="81.80" y2="167.16"/>
<line x1="355.00" y1="167.16" x2="359.10" y2="167.16"/>
<line x1="77.70" y1="187.08" x2="81.80" y2="187.08"/>
<line x1="355.00" y1="187.08" x2="359.10" y2="187.08"/>
<line x1="77.70" y1="226.94" x2="81.80" y2="226.94"/>
<line x1="355.00" y1="226.94" x2="359.10" y2="226.94"/>
<line x1="77.70" y1="246.88" x2="81.80" y2="246.88"/>
<line x1="355.00" y1="246.88" x2="359.10" y2="246.88"/>
<line x1="77.70" y1="266.82" x2="81.80" y2="266.82"/>
<line x1="355.00" y1="266.82" x2="359.10" y2="266.82"/>
<line x1="77.70" y1="286.76" x2="81.80" y2="286.76"/>
<line x1="355.00" y1="286.76" x2="359.10" y2="286.76"/>
<line x1="77.70" y1="306.70" x2="85.70" y2="306.70"/>
<line x1="351.10" y1="306.70" x2="359.10" y2="306.70"/>
<line x1="77.70" y1="326.64" x2="81.80" y2="326.64"/>
<line x1="355.00" y1="326.64" x2="359.10" y2="326.64"/>
<line x1="77.70" y1="346.58" x2="81.80" y2="346.58"/>
<line x1="355.00" y1="346.58" x2="359.10" y2="346.58"/>
<line x1="77.70" y1="366.52" x2="81.80" y2="366.52"/>
<line x1="355.00" y1="366.52" x2="359.10" y2="366.52"/>
<line x1="77.70" y1="386.46" x2="81.80" y2="386.46"/>
<line x1="355.00" y1="386.46" x2="359.10" y2="386.46"/>
</g>
<g font-family="'Liberation Serif', serif" font-size="20" fill="#000">
<text x="74.4" y="14.20" text-anchor="end">200</text>
<text x="74.4" y="113.80" text-anchor="end">100</text>
<text x="74.4" y="213.40" text-anchor="end">200</text>
<text x="74.4" y="313.10" text-anchor="end">100</text>
<text x="74.4" y="412.80" text-anchor="end">0</text>
<text x="148.05" y="424.8" text-anchor="middle">-100</text>
<text x="218.40" y="424.8" text-anchor="middle">0</text>
<text x="288.75" y="424.8" text-anchor="middle">100</text>
<text x="359.10" y="424.8" text-anchor="middle">200</text>
</g>
<g font-family="'Liberation Serif', serif" font-size="23" fill="#000">
<text x="219" y="443.8" text-anchor="middle">E<tspan dx="1"> -</tspan><tspan dx="-1"> E</tspan><tspan font-size="16.3" dy="7.6" dx="0">F</tspan><tspan dy="-7.6"> [MeV]</tspan></text>
<g transform="translate(25.00,0) rotate(-90)">
<text x="-290.00" y="0.00" font-size="23.0">J</text>
<text x="-281.20" y="8.60" font-size="16.3">W</text>
<text x="-260.80" y="0.00" font-size="23.0">/</text>
<text x="-248.80" y="0.00" font-size="23.0">A</text>
<text x="-212.00" y="0.00" font-size="23.0">[MeV</text>
<text x="-152.50" y="0.00" font-size="23.0">fm</text>
<text x="-127.50" y="-12.00" font-size="16.3">3</text>
<text x="-119.00" y="0.00" font-size="23.0">]</text>
</g>
</g>
<g stroke="#000" stroke-width="1.35">
<line x1="8.3" y1="297.40" x2="30.7" y2="297.40"/>
<line x1="8.3" y1="223.90" x2="30.7" y2="223.90"/>
</g>
<g font-family="'Liberation Sans', sans-serif" font-size="20" fill="#670748">
<text x="86.8" y="46.9"><tspan font-size="13.5" dy="-12.5">40</tspan><tspan dy="12.5">Ca (p)</tspan></text>
<text x="86.8" y="245.6"><tspan font-size="13.5" dy="-12.5">48</tspan><tspan dy="12.5">Ca (p)</tspan></text>
</g>
</svg>
</body></html>
